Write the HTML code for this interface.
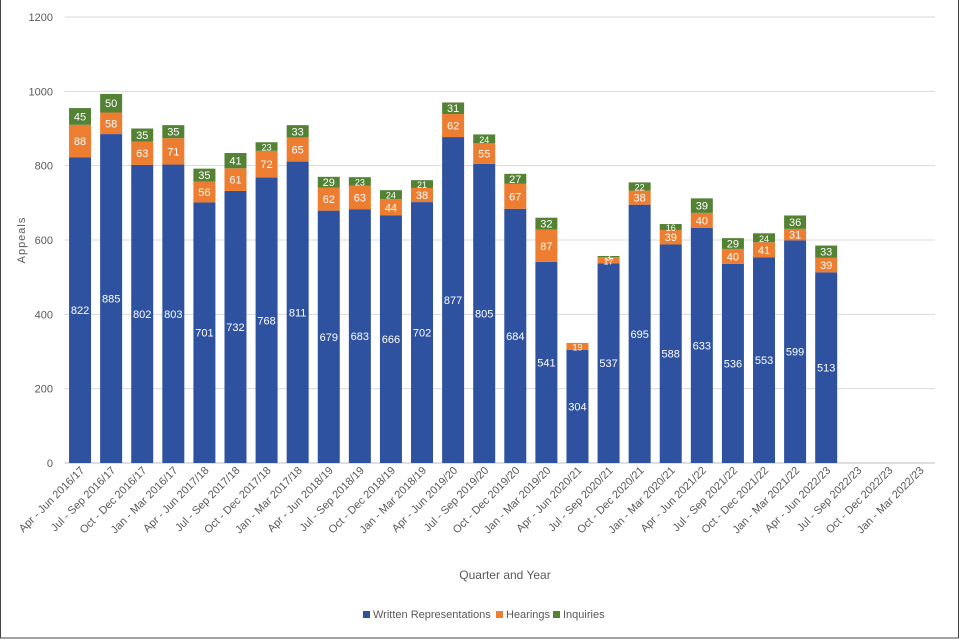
<!DOCTYPE html>
<html><head><meta charset="utf-8"><style>
html,body{margin:0;padding:0;background:#fff;font-family:"Liberation Sans",sans-serif;overflow:hidden}
svg{display:block}
svg text{font-family:"Liberation Sans",sans-serif}
</style></head><body>
<svg id="c" width="960" height="640" xmlns="http://www.w3.org/2000/svg">
<rect x="0.5" y="-1" width="958" height="639" fill="#fff" stroke="#444" stroke-width="1"/>
<g id="grid"></g><g id="bars"></g><g id="xl"></g>
<text x="25" y="240" transform="rotate(-90 25 240)" text-anchor="middle" font-size="11" fill="#595959" letter-spacing="1">Appeals</text>
<text x="505" y="579" text-anchor="middle" font-size="12" fill="#595959">Quarter and Year</text>
<g>
<rect x="363" y="611" width="7" height="7" fill="#2f52a0"/>
<text x="373" y="618" font-size="11" fill="#595959">Written Representations</text>
<rect x="496" y="611" width="7" height="7" fill="#ed7d31"/>
<text x="506" y="618" font-size="11" fill="#595959">Hearings</text>
<rect x="553" y="611" width="7" height="7" fill="#548235"/>
<text x="563" y="618" font-size="11" fill="#595959">Inquiries</text>
</g>
</svg>
<script>
const categories=["Apr - Jun 2016/17","Jul - Sep 2016/17","Oct - Dec 2016/17","Jan - Mar 2016/17","Apr - Jun 2017/18","Jul - Sep 2017/18","Oct - Dec 2017/18","Jan - Mar 2017/18","Apr - Jun 2018/19","Jul - Sep 2018/19","Oct - Dec 2018/19","Jan - Mar 2018/19","Apr - Jun 2019/20","Jul - Sep 2019/20","Oct - Dec 2019/20","Jan - Mar 2019/20","Apr - Jun 2020/21","Jul - Sep 2020/21","Oct - Dec 2020/21","Jan - Mar 2020/21","Apr - Jun 2021/22","Jul - Sep 2021/22","Oct - Dec 2021/22","Jan - Mar 2021/22","Apr - Jun 2022/23","Jul - Sep 2022/23","Oct - Dec 2022/23","Jan - Mar 2022/23"];
const written=[822,885,802,803,701,732,768,811,679,683,666,702,877,805,684,541,304,537,695,588,633,536,553,599,513,null,null,null];
const hearings=[88,58,63,71,56,61,72,65,62,63,44,38,62,55,67,87,19,17,38,39,40,40,41,31,39,null,null,null];
const inquiries=[45,50,35,35,35,41,23,33,29,23,24,21,31,24,27,32,0,3,22,16,39,29,24,36,33,null,null,null];
const yTicks=[0,200,400,600,800,1000,1200];
const NS="http://www.w3.org/2000/svg";
const L=64.5,R=935,Y0=463,Y1=17,YMAX=1200;
const slot=(R-L)/28;
const y=v=>Y0-(v/YMAX)*(Y0-Y1);
const x=i=>L+slot*(i+0.5);
const BW=22;
function mk(t,a,p){const e=document.createElementNS(NS,t);for(const k in a)e.setAttribute(k,a[k]);p.appendChild(e);return e;}
const grid=document.getElementById('grid');
yTicks.forEach(t=>{
 const ln=mk('line',{x1:L,x2:R,y1:y(t),y2:y(t),stroke:t===0?'#bfbfbf':'#d9d9d9','stroke-width':1},grid);
 
 
 const tx=mk('text',{x:53,y:y(t)+4,'text-anchor':'end','font-size':11,fill:'#595959'},grid);
 tx.textContent=t;
 
 
});
const bars=document.getElementById('bars');
const series=[[written,'#2f52a0','written'],[hearings,'#ed7d31','hearings'],[inquiries,'#548235','inquiries']];
categories.forEach((c,i)=>{
 let base=0;
 series.forEach(([arr,col,nm])=>{
  const v=arr[i]; if(v==null||v<=0)return;
  const r=mk('rect',{x:x(i)-BW/2,y:y(base+v),width:BW,height:y(base)-y(base+v),fill:col},bars);
  
  
  const t=mk('text',{x:x(i),y:(y(base)+y(base+v))/2+4,'text-anchor':'middle','font-size':v<25?9:11,fill:'#fff'},bars);
  t.textContent=v;
  
  
  base+=v;
 });
 const xl=document.getElementById('xl');
 const cx=x(i)+5,cy=Y0+8;
 const t=mk('text',{x:cx,y:cy,'text-anchor':'end','font-size':11,fill:'#595959',transform:`rotate(-45 ${cx} ${cy})`},xl);
 t.textContent=c;
 
 
});
</script>
</body></html>
